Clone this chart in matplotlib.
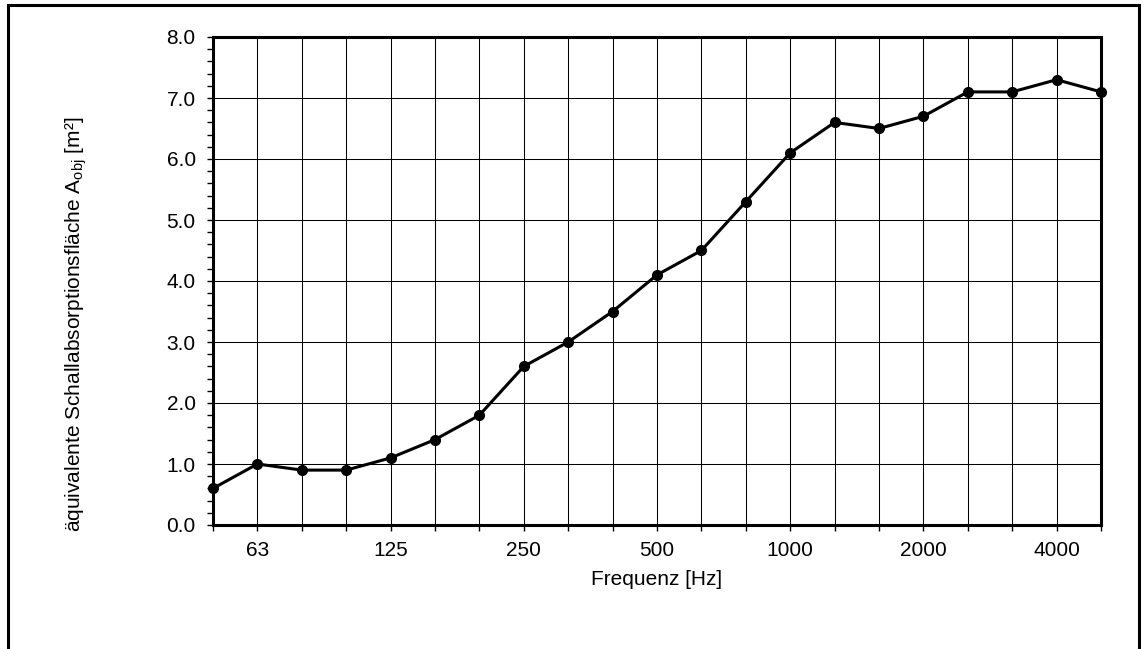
import numpy as np
import matplotlib.pyplot as plt
from matplotlib.patches import Rectangle
from matplotlib.ticker import MultipleLocator

# Terzband-Mittenfrequenzen und gemessene Absorptionsfläche
freqs = [50, 63, 80, 100, 125, 160, 200, 250, 315, 400, 500,
         630, 800, 1000, 1250, 1600, 2000, 2500, 3150, 4000, 5000]
a_obj = [0.6, 1.0, 0.9, 0.9, 1.1, 1.4, 1.8, 2.6, 3.0, 3.5, 4.1,
         4.5, 5.3, 6.1, 6.6, 6.5, 6.7, 7.1, 7.1, 7.3, 7.1]
labelled = [63, 125, 250, 500, 1000, 2000, 4000]

plt.rcParams['font.family'] = ['Liberation Sans', 'DejaVu Sans']

fig = plt.figure(figsize=(11.46, 6.49), dpi=100)
ax = fig.add_axes([213 / 1146, 1 - 525 / 649, 888 / 1146, 488 / 649])

x = np.arange(len(freqs))
ax.plot(x, a_obj, color='black', lw=2.2, marker='o', ms=7, zorder=3, clip_on=False)

ax.set_xlim(0, len(freqs) - 1)
ax.set_ylim(0, 8)
ax.set_xticks(x)
ax.set_xticklabels([str(f) if f in labelled else '' for f in freqs])
ax.yaxis.set_major_locator(MultipleLocator(1))
ax.yaxis.set_minor_locator(MultipleLocator(0.2))
ax.yaxis.set_major_formatter(plt.FormatStrFormatter('%.1f'))

ax.grid(True, which='major', color='black', lw=0.75)
ax.set_axisbelow(True)
for s in ax.spines.values():
    s.set_linewidth(2.2)

ax.tick_params(axis='both', which='major', direction='out', length=4.5, width=1,
               labelsize=15)
ax.tick_params(axis='y', which='major', pad=8)
ax.tick_params(axis='y', which='minor', direction='out', length=4, width=1)
ax.tick_params(axis='x', pad=7)

ax.set_xlabel('Frequenz [Hz]', fontsize=15, labelpad=7)
fig.text(76 / 1146, 0.5, r'äquivalente Schallabsorptionsfläche A$_{\mathregular{obj}}$ [m²]',
         rotation=90, fontsize=15, ha='center', va='center')

# Rahmen um die gesamte Grafik
fig.patches.append(Rectangle((8, -20), 1131, 664, transform=None, fill=False,
                             edgecolor='black', lw=2.2))

fig.savefig('out.png', dpi=100)
